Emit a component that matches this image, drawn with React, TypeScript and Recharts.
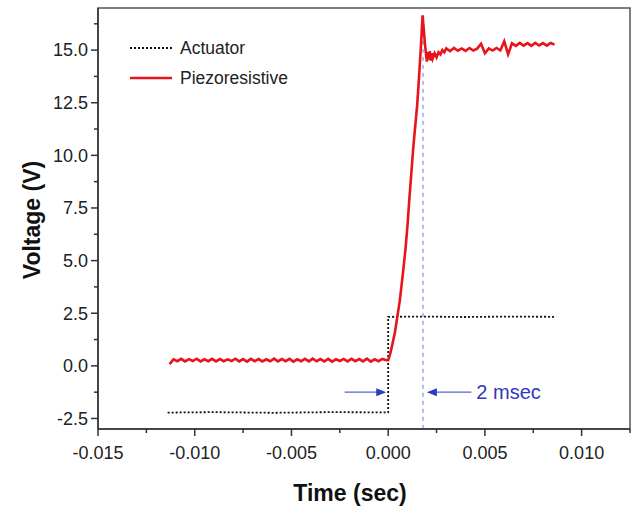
import { LineChart, Line, XAxis, YAxis, ReferenceLine, ReferenceArea, Legend } from 'recharts'

// piezoresistive baseline, sampled every 0.2 ms from -11.3 ms
const baseStart = -0.0113
const sampleStep = 0.0002
const piezoBase = [
  0.08, 0.31, 0.22, 0.33, 0.21, 0.32, 0.23, 0.34, 0.21, 0.31,
  0.22, 0.33, 0.21, 0.32, 0.22, 0.31, 0.23, 0.34, 0.21, 0.32,
  0.2, 0.33, 0.22, 0.32, 0.21, 0.31, 0.22, 0.34, 0.21, 0.32,
  0.22, 0.33, 0.2, 0.31, 0.22, 0.33, 0.21, 0.34, 0.22, 0.32,
  0.21, 0.33, 0.2, 0.31, 0.23, 0.33, 0.21, 0.33, 0.22, 0.32,
  0.21, 0.34, 0.2, 0.31, 0.22, 0.33, 0.27,
]

// rise, overshoot and ringing: [time, volts]
const piezoRise: Array<[number, number]> = [
  [0.0, 0.27], [0.0001, 0.55], [0.0002, 0.95], [0.00035, 1.6], [0.0005, 2.5],
  [0.0006, 3.1], [0.00075, 4.3], [0.0009, 5.6], [0.001, 6.7], [0.0011, 8.0],
  [0.0012, 9.2], [0.0013, 10.4], [0.0014, 11.4], [0.0015, 12.4], [0.0016, 13.8],
  [0.0017, 15.3], [0.00178, 16.65], [0.0019, 15.3], [0.002, 14.45], [0.00205, 14.9],
  [0.0021, 14.55], [0.00215, 14.95], [0.0022, 14.5], [0.00225, 14.85], [0.0023, 14.6],
  [0.0024, 14.85], [0.0025, 14.65], [0.0026, 14.9], [0.0027, 14.8], [0.0028, 15.0],
  [0.0029, 14.9],
]

// plateau, sampled every 0.2 ms from 3.0 ms
const plateauStart = 0.003
const piezoPlateau = [
  15.08, 14.95, 15.1, 14.97, 15.08, 14.96, 15.1, 14.98, 15.07, 15.3,
  14.85, 15.08, 14.98, 15.1, 14.99, 15.42, 14.8, 15.32, 15.2, 15.34,
  15.21, 15.33, 15.2, 15.34, 15.22, 15.33, 15.21, 15.34, 15.26,
]

const actuatorPts: Array<[number, number]> = [
  [-0.0114, -2.22], [-0.009, -2.2], [-0.006, -2.23], [-0.003, -2.2], [0.0, -2.21],
  [0.0, 2.33], [0.002, 2.34], [0.004, 2.32], [0.006, 2.34], [0.0086, 2.33],
]

const xMajor = [-0.015, -0.01, -0.005, 0, 0.005, 0.01]
const xMinor = [-0.0125, -0.0075, -0.0025, 0.0025, 0.0075, 0.0125]
const yMajor = [-2.5, 0, 2.5, 5, 7.5, 10, 12.5, 15]
const yMinor = [-1.25, 1.25, 3.75, 6.25, 8.75, 11.25, 13.75, 16.25]

const piezoData = [
  ...piezoBase.map((v, i) => ({ t: baseStart + i * sampleStep, v })),
  ...piezoRise.map(([t, v]) => ({ t, v })),
  ...piezoPlateau.map((v, i) => ({ t: plateauStart + i * sampleStep, v })),
]
const actuatorData = actuatorPts.map(([t, v]) => ({ t, v }))

const axisColor = '#333'
const red = '#e8141c'
const blue = '#3636bd'
const isMajor = (v: number, list: number[]) => list.some((m) => Math.abs(m - v) < 1e-9)

const XTick = (props: any) => {
  const { x, y, payload } = props
  const major = isMajor(payload.value, xMajor)
  return (
    <g>
      <line x1={x} y1={y} x2={x} y2={y + (major ? 7 : 4)} stroke={axisColor} strokeWidth={1.5} />
      {major && (
        <text x={x} y={y + 30} textAnchor="middle" fontSize={18} fill="#222">
          {payload.value.toFixed(3)}
        </text>
      )}
    </g>
  )
}

const YTick = (props: any) => {
  const { x, y, payload } = props
  const major = isMajor(payload.value, yMajor)
  return (
    <g>
      <line x1={x} y1={y} x2={x - (major ? 7 : 4)} y2={y} stroke={axisColor} strokeWidth={1.5} />
      {major && (
        <text x={x - 10} y={y} dy="0.35em" textAnchor="end" fontSize={18} fill="#222">
          {payload.value.toFixed(1)}
        </text>
      )}
    </g>
  )
}

const arrow = (withText: boolean) => (props: any) => {
  const { x1, y1, x2, y2 } = props
  const dir = Math.sign(x2 - x1)
  return (
    <g>
      <line x1={x1} y1={y1} x2={x2 - dir * 6} y2={y2} stroke="#5566cc" strokeWidth={1.2} />
      <polygon
        points={`${x2},${y2} ${x2 - dir * 10},${y2 - 4} ${x2 - dir * 10},${y2 + 4}`}
        fill="#2a3cbf"
      />
      {withText && (
        <text x={x1 + 5} y={y1} dy="0.35em" fontSize={20} fill={blue}>
          2 msec
        </text>
      )}
    </g>
  )
}

const LegendBox = () => (
  <svg width={200} height={60}>
    <line x1={2} y1={10} x2={44} y2={10} stroke="#111" strokeWidth={1.8} strokeDasharray="2 2" />
    <text x={52} y={10} dy="0.35em" fontSize={17.5} fill="#222">Actuator</text>
    <line x1={2} y1={40} x2={44} y2={40} stroke={red} strokeWidth={2.4} />
    <text x={52} y={40} dy="0.35em" fontSize={17.5} fill="#222">Piezoresistive</text>
  </svg>
)

export default function App() {
  return (
    <div
      style={{
        position: 'absolute', left: 0, top: 0, width: 637, height: 506,
        background: '#fff', fontFamily: '"Liberation Sans", Arial, sans-serif',
      }}
    >
      <LineChart width={637} height={506} margin={{ top: 8, right: 7, left: 0, bottom: 0 }}>
        <ReferenceArea x1={-0.015} x2={0.0125} y1={-3} y2={17} fill="none" stroke="#555" strokeWidth={1.5} />
        <XAxis
          dataKey="t"
          type="number"
          domain={[-0.015, 0.0125]}
          allowDataOverflow
          ticks={[...xMajor, ...xMinor].sort((a, b) => a - b)}
          interval={0}
          tickSize={0}
          tickMargin={0}
          tick={XTick}
          tickLine={false}
          axisLine={{ stroke: axisColor, strokeWidth: 1.5 }}
          height={77}
          label={{
            content: () => (
              <text x={350} y={493} dy="0.35em" textAnchor="middle" fontSize={23} fontWeight="bold" fill="#111">
                Time (sec)
              </text>
            ),
          }}
        />
        <YAxis
          type="number"
          domain={[-3, 17]}
          allowDataOverflow
          ticks={[...yMajor, ...yMinor].sort((a, b) => a - b)}
          interval={0}
          tickSize={0}
          tickMargin={0}
          tick={YTick}
          tickLine={false}
          axisLine={{ stroke: axisColor, strokeWidth: 1.5 }}
          width={98}
          label={{
            content: () => (
              <text
                x={32} y={220} dy="0.35em" textAnchor="middle" fontSize={23} fontWeight="bold" fill="#111"
                transform="rotate(-90 32 220)"
              >
                Voltage (V)
              </text>
            ),
          }}
        />
        <Legend
          layout="vertical"
          align="center"
          verticalAlign="middle"
          wrapperStyle={{ left: 128, top: 38, width: 200, height: 60 }}
          content={LegendBox}
        />
        <ReferenceLine
          segment={[{ x: 0.0018, y: 16.2 }, { x: 0.0018, y: -3 }]}
          stroke="#6b7fd8"
          strokeWidth={1}
          strokeDasharray="4 4"
        />
        <ReferenceLine segment={[{ x: -0.00225, y: -1.25 }, { x: -0.0001, y: -1.25 }]} shape={arrow(false)} />
        <ReferenceLine segment={[{ x: 0.0043, y: -1.25 }, { x: 0.002, y: -1.25 }]} shape={arrow(true)} />
        <Line
          data={actuatorData}
          dataKey="v"
          stroke="#111"
          strokeWidth={1.8}
          strokeDasharray="2 2"
          dot={false}
          isAnimationActive={false}
        />
        <Line
          data={piezoData}
          dataKey="v"
          stroke={red}
          strokeWidth={2.6}
          dot={false}
          isAnimationActive={false}
        />
      </LineChart>
    </div>
  )
}
